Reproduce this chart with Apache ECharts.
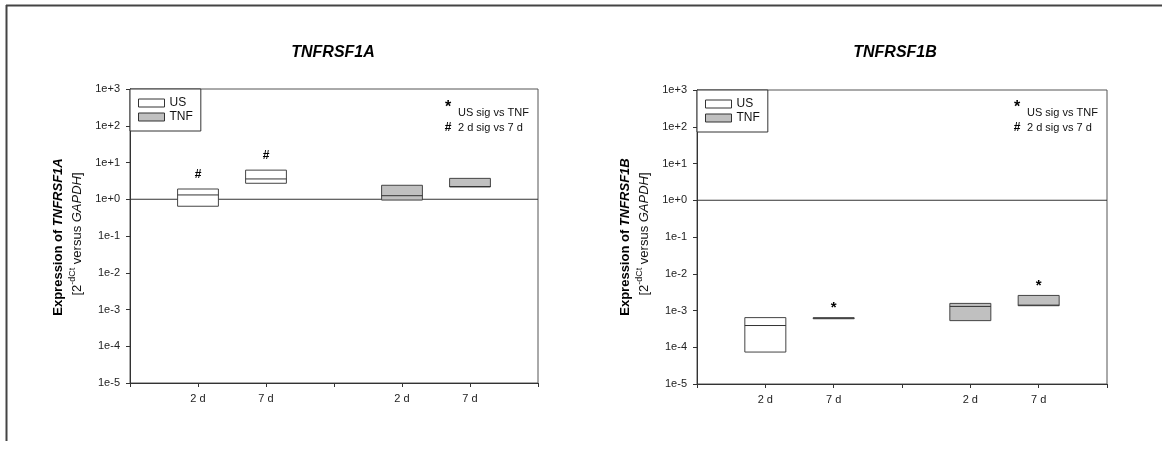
<!DOCTYPE html>
<html>
<head>
<meta charset="utf-8">
<script src="https://cdn.jsdelivr.net/npm/echarts@6/dist/echarts.min.js"></script>
<style>
html,body{margin:0;padding:0;background:#fff;}
#c{width:1162px;height:456px;}
</style>
</head>
<body>
<div id="c"></div>
<script>
// ---- data ----
const groups = ['US', 'TNF'];
const days = ['2 d', '7 d'];
const xLabels = ['', '2 d', '7 d', '', '2 d', '7 d', ''];
const yTickLabels = ['1e-5', '1e-4', '1e-3', '1e-2', '1e-1', '1e+0', '1e+1', '1e+2', '1e+3'];
const genes = ['TNFRSF1A', 'TNFRSF1B'];
// each row: [min, median, max] for 2 d, 7 d
const A_US  = [[0.645, 1.31, 1.9], [2.72, 3.57, 6.2]];
const A_TNF = [[0.95, 1.25, 2.4], [2.16, 2.22, 3.7]];
const B_US  = [[7.4e-5, 3.9e-4, 6.4e-4], [6.0e-4, 6.2e-4, 6.35e-4]];
const B_TNF = [[5.3e-4, 1.29e-3, 1.56e-3], [1.35e-3, 1.4e-3, 2.57e-3]];
// significance marks above each box
const A_US_sig  = ['#', '#'];
const A_TNF_sig = ['', ''];
const B_US_sig  = ['', '*'];
const B_TNF_sig = ['', '*'];
const keyItems = [['*', 'US sig vs TNF'], ['#', '2 d sig vs 7 d']];

// ---- build ----
const FONT = 'Liberation Sans, Arial, sans-serif';
const fills = { US: '#ffffff', TNF: '#c0c0c0' };
const strokes = '#444';

function slot(g, d) { return 1 + g * 3 + d; }

function boxData(rows, g) {
  return rows.map((r, d) => [slot(g, d), r[0], r[1], r[2]]);
}

function makeRender(sigs, fill) {
  return function (params, api) {
    const x = api.value(0), lo = api.value(1), med = api.value(2), hi = api.value(3);
    const pLo = api.coord([x, lo]);
    const pHi = api.coord([x, hi]);
    const pMed = api.coord([x, med]);
    const xl = api.coord([x - 0.3, hi])[0];
    const xr = api.coord([x + 0.3, hi])[0];
    const children = [
      { type: 'rect', shape: { x: xl, y: pHi[1], width: xr - xl, height: Math.max(pLo[1] - pHi[1], 1) },
        style: { fill: fill, stroke: strokes, lineWidth: 1 } },
      { type: 'line', shape: { x1: xl, y1: pMed[1], x2: xr, y2: pMed[1] },
        style: { stroke: '#333', lineWidth: 1 } }
    ];
    const s = sigs[params.dataIndex];
    if (s) {
      children.push({ type: 'text', x: (xl + xr) / 2, y: pHi[1] - (s === '*' ? 10 : 14),
        style: { text: s, align: 'center', verticalAlign: 'middle', fontFamily: FONT,
          fontWeight: 'bold', fontSize: s === '*' ? 15 : 12, fill: '#000' } });
    }
    return { type: 'group', children: children };
  };
}

const grids = [
  { left: 130, top: 89, width: 408, height: 294 },
  { left: 697, top: 90, width: 410, height: 294 }
];
const chartData = [
  { us: A_US, tnf: A_TNF, usSig: A_US_sig, tnfSig: A_TNF_sig },
  { us: B_US, tnf: B_TNF, usSig: B_US_sig, tnfSig: B_TNF_sig }
];

const option = {
  animation: false,
  backgroundColor: '#fff',
  title: genes.map((g, i) => ({
    text: g, left: i === 0 ? 333 : 895, top: 45, textAlign: 'center', padding: 0,
    textStyle: { fontFamily: FONT, fontStyle: 'italic', fontWeight: 'bold', fontSize: 16, color: '#000' }
  })),
  grid: grids.map(g => Object.assign({ show: true, borderColor: '#555', borderWidth: 1, backgroundColor: 'transparent' }, g)),
  legend: grids.map(g => ({
    left: g.left, top: g.top, orient: 'vertical', padding: [7, 8, 7, 8], itemGap: 0,
    itemWidth: 26, itemHeight: 8, itemStyle: { borderWidth: 1, borderColor: '#333' },
    backgroundColor: '#fff', borderColor: '#333', borderWidth: 1,
    textStyle: { fontFamily: FONT, fontSize: 12, color: '#111', lineHeight: 14 },
    selectedMode: false,
    data: groups.map(n => ({ name: n, icon: 'rect', itemStyle: { color: fills[n], borderColor: '#333', borderWidth: 1 } }))
  })),
  xAxis: grids.map((g, i) => ({
    gridIndex: i, type: 'value', min: 0, max: 6, interval: 1,
    axisLine: { show: true, lineStyle: { color: '#333', width: 1 } },
    axisTick: { show: true, length: 4, lineStyle: { color: '#333' } },
    splitLine: { show: false },
    axisLabel: { margin: 10, fontFamily: FONT, fontSize: 11, color: '#222',
      formatter: v => xLabels[Math.round(v)] || '' }
  })),
  yAxis: grids.map((g, i) => ({
    gridIndex: i, type: 'log', logBase: 10, min: 1e-5, max: 1e3, splitNumber: 8,
    axisLine: { show: true, lineStyle: { color: '#333', width: 1 } },
    axisTick: { show: true, length: 4, lineStyle: { color: '#333' } },
    splitLine: { show: false },
    axisLabel: { margin: 10, fontFamily: FONT, fontSize: 11, color: '#222',
      formatter: v => yTickLabels[Math.round(Math.log10(v)) + 5] || '' }
  })),
  series: [],
  graphic: []
};

chartData.forEach((cd, i) => {
  option.series.push({
    name: 'ref' + i, type: 'line', xAxisIndex: i, yAxisIndex: i, silent: true,
    showSymbol: false, symbol: 'none', data: [[0, 1], [6, 1]],
    lineStyle: { color: '#333', width: 1 }, z: 1
  });
  option.series.push({
    name: 'US', type: 'custom', xAxisIndex: i, yAxisIndex: i, silent: true,
    itemStyle: { color: fills.US, borderColor: '#333' },
    renderItem: makeRender(cd.usSig, fills.US),
    encode: { x: 0, y: [1, 2, 3] }, data: boxData(cd.us, 0), z: 3
  });
  option.series.push({
    name: 'TNF', type: 'custom', xAxisIndex: i, yAxisIndex: i, silent: true,
    itemStyle: { color: fills.TNF, borderColor: '#333' },
    renderItem: makeRender(cd.tnfSig, fills.TNF),
    encode: { x: 0, y: [1, 2, 3] }, data: boxData(cd.tnf, 1), z: 3
  });
});

// outer frame
option.graphic.push({ type: 'line', shape: { x1: 6, y1: 5.5, x2: 1162, y2: 5.5 }, style: { stroke: '#444', lineWidth: 2 }, silent: true });
option.graphic.push({ type: 'line', shape: { x1: 6.5, y1: 5, x2: 6.5, y2: 441 }, style: { stroke: '#444', lineWidth: 2 }, silent: true });

// y-axis titles and significance key
grids.forEach((g, i) => {
  const dx = g.left - 130;
  option.graphic.push({
    type: 'text', x: 58 + dx, y: 237, rotation: Math.PI / 2, silent: true,
    style: {
      text: '{b|Expression of }{bi|' + genes[i] + '}',
      align: 'center', verticalAlign: 'middle', fontFamily: FONT,
      rich: {
        b: { fontFamily: FONT, fontWeight: 'bold', fontSize: 13, fill: '#000' },
        bi: { fontFamily: FONT, fontWeight: 'bold', fontStyle: 'italic', fontSize: 13, fill: '#000' }
      }
    }
  });
  option.graphic.push({
    type: 'text', x: 77 + dx, y: 234, rotation: Math.PI / 2, silent: true,
    style: {
      text: '{n|[2}{s|-dCt}{n| versus }{i|GAPDH}{n|]}',
      align: 'center', verticalAlign: 'middle', fontFamily: FONT,
      rich: {
        n: { fontFamily: FONT, fontSize: 13, fill: '#111', lineHeight: 16 },
        s: { fontFamily: FONT, fontSize: 9, fill: '#111', padding: [0, 0, 9, 0], lineHeight: 16 },
        i: { fontFamily: FONT, fontStyle: 'italic', fontSize: 13, fill: '#111', lineHeight: 16 }
      }
    }
  });
  const kx = i === 0 ? 448 : 1017;
  keyItems.forEach((k, j) => {
    const isStar = k[0] === '*';
    option.graphic.push({
      type: 'text', x: kx, y: j === 0 ? 108 : 128, silent: true,
      style: { text: k[0], align: 'center', verticalAlign: 'middle', fontFamily: FONT,
        fontWeight: 'bold', fontSize: isStar ? 16 : 12, fill: '#000' }
    });
    option.graphic.push({
      type: 'text', x: kx + 10, y: j === 0 ? 113 : 128, silent: true,
      style: { text: k[1], align: 'left', verticalAlign: 'middle', fontFamily: FONT,
        fontSize: 11, fill: '#111' }
    });
  });
});

const chart = echarts.init(document.getElementById('c'), null, { renderer: 'canvas' });
chart.setOption(option);
</script>
</body>
</html>
